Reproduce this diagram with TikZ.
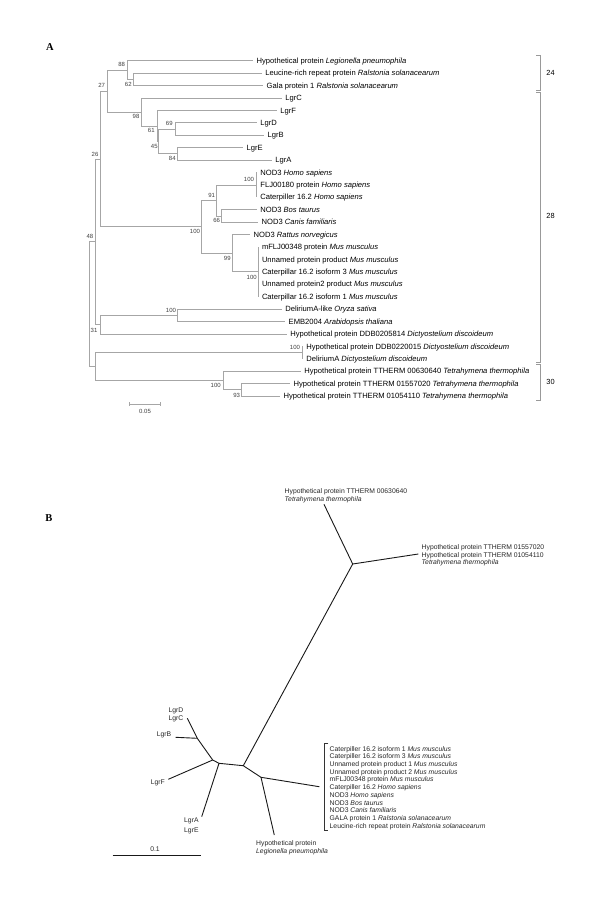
\documentclass[tikz,border=0pt]{standalone}
\usepackage{fontspec}
\setmainfont{Liberation Sans}
\newfontfamily\panelfont{Liberation Serif}
\tikzset{
  brA/.style={draw=black!35, line width=0.8pt},
  brk/.style={draw=black!40, line width=0.7pt},
  brB/.style={draw=black!90, line width=0.9pt},
  tipA/.style={anchor=mid west, inner sep=0pt, xshift=3.5pt, font=\fontsize{7.6}{9}\selectfont},
  bsA/.style={inner sep=0pt, text=black!75, font=\fontsize{6}{7}\selectfont},
  cladeA/.style={inner sep=0pt, font=\fontsize{7.4}{9}\selectfont},
  labB/.style={anchor=mid west, inner sep=0pt, text=black!85, font=\fontsize{6.8}{7.7}\selectfont},
  scaleA/.style={inner sep=0pt, text=black!75, font=\fontsize{6}{7}\selectfont},
  panel/.style={inner sep=0pt, font=\panelfont\bfseries\fontsize{10.5}{12}\selectfont},
}
\begin{document}
\begin{tikzpicture}[x=1pt,y=-1pt]
\fill[white] (0,0) rectangle (600,900);
\useasboundingbox (0,0) rectangle (600,900);

% ---------------- Panel A ----------------
\node[panel] (pA) at (50,47.3) {A};

% tips: index / y / line end x / label
\foreach \i/\y/\x/\t in {
 1/60.70/253/{Hypothetical protein \textit{Legionella pneumophila}},
 2/73.12/261.7/{Leucine-rich repeat protein \textit{Ralstonia solanacearum}},
 3/85.54/263/{Gala protein 1 \textit{Ralstonia solanacearum}},
 4/97.96/281.7/{LgrC},
 5/110.38/276.7/{LgrF},
 6/122.80/256.7/{LgrD},
 7/135.22/264/{LgrB},
 8/147.64/243/{LgrE},
 9/160.06/271.7/{LgrA},
 10/172.48/256.7/{NOD3 \textit{Homo sapiens}},
 11/184.90/256.7/{FLJ00180 protein \textit{Homo sapiens}},
 12/197.32/256.7/{Caterpiller 16.2 \textit{Homo sapiens}},
 13/209.74/256.7/{NOD3 \textit{Bos taurus}},
 14/222.16/258/{NOD3 \textit{Canis familiaris}},
 15/234.58/250/{NOD3 \textit{Rattus norvegicus}},
 16/247.00/258.3/{mFLJ00348 protein \textit{Mus musculus}},
 17/259.42/258.3/{Unnamed protein product \textit{Mus musculus}},
 18/271.84/258.3/{Caterpillar 16.2 isoform 3 \textit{Mus musculus}},
 19/284.26/258.3/{Unnamed protein2 product \textit{Mus musculus}},
 20/296.68/258.3/{Caterpillar 16.2 isoform 1 \textit{Mus musculus}},
 21/309.10/281.7/{DeliriumA-like \textit{Oryza sativa}},
 22/321.52/285/{EMB2004 \textit{Arabidopsis thaliana}},
 23/333.94/286.7/{Hypothetical protein DDB0205814 \textit{Dictyostelium discoideum}},
 24/346.36/302.7/{Hypothetical protein DDB0220015 \textit{Dictyostelium discoideum}},
 25/358.78/302.7/{DeliriumA \textit{Dictyostelium discoideum}},
 26/371.20/300.7/{Hypothetical protein TTHERM 00630640 \textit{Tetrahymena thermophila}},
 27/383.62/290/{Hypothetical protein TTHERM 01557020 \textit{Tetrahymena thermophila}},
 28/396.04/280/{Hypothetical protein TTHERM 01054110 \textit{Tetrahymena thermophila}}}
{
  \coordinate (t\i) at (\x,\y);
  \node[tipA] (l\i) at (t\i) {\t};
}

% internal nodes
\coordinate (n62) at (133.3,79.33);
\coordinate (n88) at (127.7,70.02);
\coordinate (n69) at (175.7,129.01);
\coordinate (n84) at (177.3,153.85);
\coordinate (n45) at (158.3,141.43);
\coordinate (n61) at (157.3,125.9);
\coordinate (n98) at (141.7,111.93);
\coordinate (n27) at (107.3,90.98);
\coordinate (nH) at (256.7,184.9);
\coordinate (n66) at (221.7,215.95);
\coordinate (n91) at (216,200.43);
\coordinate (nMo) at (258.3,271.84);
\coordinate (n99) at (232.7,253.21);
\coordinate (nM) at (201.7,226.82);
\coordinate (n26) at (100.7,158.9);
\coordinate (nPl) at (177.3,315.31);
\coordinate (n31) at (100.7,324.63);
\coordinate (n48) at (95,241.77);
\coordinate (nDi) at (302.7,352.57);
\coordinate (n93) at (241.7,389.83);
\coordinate (nTT) at (223.3,380.52);
\coordinate (nQ) at (95,366.55);
\coordinate (root) at (89.3,304.16);

\draw[brA]
 (n88) |- (t1) (n88) |- (n62) (n62) |- (t2) (n62) |- (t3)
 (n27) |- (n88) (n27) |- (n98) (n98) |- (t4) (n98) |- (n61)
 (n61) |- (t5) (n61) |- (n45) (n45) |- (n69) (n45) |- (n84)
 (n69) |- (t6) (n69) |- (t7) (n84) |- (t8) (n84) |- (t9)
 (n26) |- (n27) (n26) |- (nM) (nM) |- (n91) (nM) |- (n99)
 (n91) |- (nH) (n91) |- (n66) (nH) |- (t10) (nH) |- (t11) (nH) |- (t12)
 (n66) |- (t13) (n66) |- (t14) (n99) |- (t15) (n99) |- (nMo)
 (nMo) |- (t16) (nMo) |- (t17) (nMo) |- (t18) (nMo) |- (t19) (nMo) |- (t20)
 (n48) |- (n26) (n48) |- (n31) (n31) |- (nPl) (n31) |- (t23)
 (nPl) |- (t21) (nPl) |- (t22)
 (root) |- (n48) (root) |- (nQ) (nQ) |- (nDi) (nQ) |- (nTT)
 (nDi) |- (t24) (nDi) |- (t25) (nTT) |- (t26) (nTT) |- (n93)
 (n93) |- (t27) (n93) |- (t28);

% bootstrap values
\foreach \i/\x/\y/\v in {
 1/121.7/64.3/88, 2/128.3/84/62, 3/101.7/85/27, 4/136/116/98,
 5/151.3/130.7/61, 6/154.3/146.7/45, 7/169.3/123.3/69, 8/172.3/158.3/84,
 9/95/154.3/26, 10/249/179.3/100, 11/211.7/195/91, 12/216.7/220.7/66,
 13/195/231.7/100, 14/227.3/258.3/99, 15/251.7/277.3/100, 16/90/236.7/48,
 17/171/310/100, 18/94/330/31, 19/295/347.7/100, 20/215.7/385.7/100,
 21/236.7/395.7/93}
{
  \node[bsA] (bs\i) at (\x,\y) {\v};
}

% clade brackets
\coordinate (k24a) at (540,55);   \coordinate (k24b) at (540,90);
\coordinate (k28a) at (540,92);   \coordinate (k28b) at (540,362.7);
\coordinate (k30a) at (540,364.5); \coordinate (k30b) at (540,400);
\draw[brk] ([xshift=-4pt]k24a) -- (k24a) -- (k24b) -- ([xshift=-4pt]k24b);
\draw[brk] ([xshift=-4pt]k28a) -- (k28a) -- (k28b) -- ([xshift=-4pt]k28b);
\draw[brk] ([xshift=-4pt]k30a) -- (k30a) -- (k30b) -- ([xshift=-4pt]k30b);
\node[cladeA] (c24) at (550.5,72.7) {24};
\node[cladeA] (c28) at (550.5,216) {28};
\node[cladeA] (c30) at (550.5,381.7) {30};

% scale bar A
\coordinate (sA1) at (129.3,404.3);
\coordinate (sA2) at (160.7,404.3);
\draw[brA] ([yshift=2pt]sA1) -- ([yshift=-2pt]sA1) (sA1) -- (sA2) ([yshift=2pt]sA2) -- ([yshift=-2pt]sA2);
\node[scaleA] (sAl) at (145,411.5) {0.05};

% ---------------- Panel B ----------------
\node[panel] (pB) at (49,518) {B};

\coordinate (bT1) at (324,504.3);
\coordinate (bN6) at (352.7,564);
\coordinate (bT2) at (418.3,554);
\coordinate (bN1) at (243.3,765.7);
\coordinate (bN2) at (219,763.3);
\coordinate (bN3) at (212.7,760);
\coordinate (bN4) at (197.3,738.3);
\coordinate (bCD) at (187.3,718.3);
\coordinate (bB) at (175.7,737.3);
\coordinate (bF) at (168.3,779.3);
\coordinate (bAE) at (201.7,816.7);
\coordinate (bN5) at (261,777.3);
\coordinate (bLeg) at (274.3,835);
\coordinate (bMam) at (319.3,786.7);

\draw[brB] (bT1) -- (bN6) -- (bT2)
 (bN6) -- (bN1) -- (bN2) -- (bN3) -- (bN4) -- (bCD)
 (bN4) -- (bB) (bN3) -- (bF) (bN2) -- (bAE)
 (bN1) -- (bN5) -- (bLeg) (bN5) -- (bMam);

\node[labB] (bl1) at (284.5,491) {Hypothetical protein TTHERM 00630640};
\node[labB] (bl2) at (284.5,498.6) {\textit{Tetrahymena thermophila}};
\node[labB] (bl3) at (421.5,546.9) {Hypothetical protein TTHERM 01557020};
\node[labB] (bl4) at (421.5,554.5) {Hypothetical protein TTHERM 01054110};
\node[labB] (bl5) at (421.5,562.2) {\textit{Tetrahymena thermophila}};
\node[labB] (bl6) at (168.3,709.5) {LgrD};
\node[labB] (bl7) at (168.3,718) {LgrC};
\node[labB] (bl8) at (156.7,733.7) {LgrB};
\node[labB] (bl9) at (150.7,782) {LgrF};
\node[labB] (bl10) at (184,820.2) {LgrA};
\node[labB] (bl11) at (184,830) {LgrE};
\node[labB] (bl12) at (256,842.5) {Hypothetical protein};
\node[labB] (bl13) at (256,851.2) {\textit{Legionella pneumophila}};

\coordinate (mk1) at (328.3,743.3);
\coordinate (mk2) at (324.3,743.3);
\coordinate (mk3) at (324.3,830);
\coordinate (mk4) at (328.3,830);
\draw[draw=black!80, line width=0.6pt] (mk1) -- (mk2) -- (mk3) -- (mk4);

\foreach \t [count=\i] in {
 {Caterpiller 16.2 isoform 1 \textit{Mus musculus}},
 {Caterpiller 16.2 isoform 3 \textit{Mus musculus}},
 {Unnamed protein product 1 \textit{Mus musculus}},
 {Unnamed protein product 2 \textit{Mus musculus}},
 {mFLJ00348 protein \textit{Mus musculus}},
 {Caterpiller 16.2 \textit{Homo sapiens}},
 {NOD3 \textit{Homo sapiens}},
 {NOD3 \textit{Bos taurus}},
 {NOD3 \textit{Canis familiaris}},
 {GALA protein 1 \textit{Ralstonia solanacearum}},
 {Leucine-rich repeat protein \textit{Ralstonia solanacearum}}}
{
  \node[labB] (bm\i) at (329.5,{748.5+(\i-1)*7.7}) {\t};
}

% scale bar B
\coordinate (sB1) at (112.7,855);
\coordinate (sB2) at (200.7,855);
\draw[brB, line width=0.8pt] (sB1) -- (sB2);
\node[labB, anchor=center] (sBl) at (155,849.3) {0.1};

\end{tikzpicture}
\end{document}
